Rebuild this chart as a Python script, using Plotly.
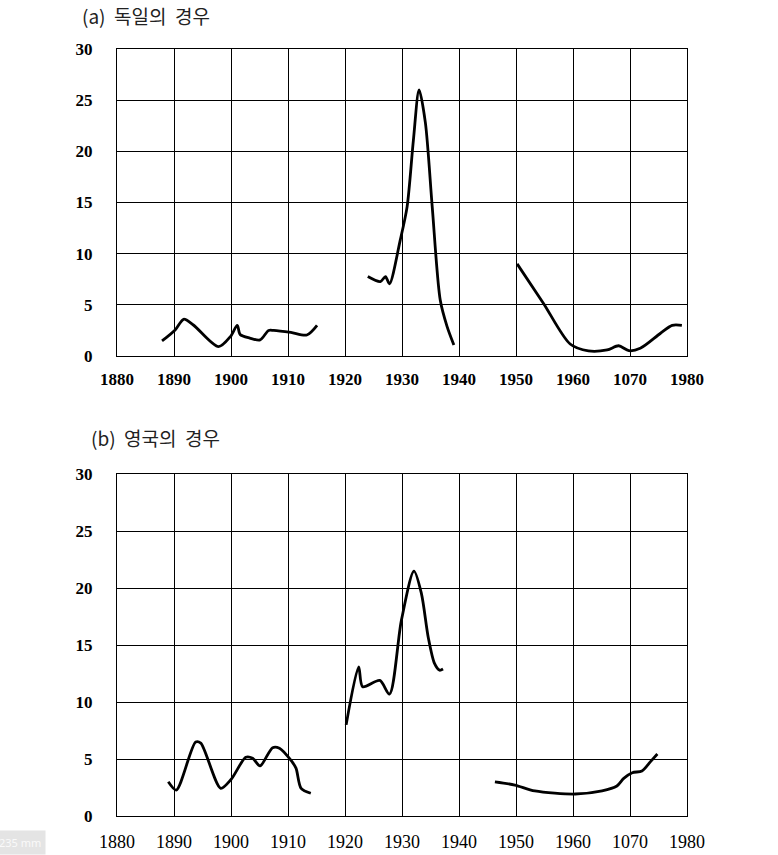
import plotly.graph_objects as go

# ---- data (a) Germany ----
de1_x = [1887.9, 1890.2, 1891.7, 1893.4, 1897.8, 1899.9, 1901.1, 1901.6, 1903.3, 1905.1, 1906.6, 1907.5, 1910.5, 1913.3, 1915.1]
de1_y = [1.47, 2.54, 3.59, 3.03, 0.91, 1.9, 3.0, 2.1, 1.75, 1.57, 2.5, 2.5, 2.3, 2.05, 3.0]
de2_x = [1924.0, 1926.2, 1927.1, 1927.8, 1929.7, 1930.9, 1932.0, 1933.0, 1934.1, 1935.3, 1936.7, 1937.9, 1939.1]
de2_y = [7.76, 7.27, 7.76, 7.05, 11.35, 14.6, 21.1, 26.0, 22.8, 14.6, 5.5, 2.9, 1.08]
de3_x = [1950.2, 1954.8, 1959.5, 1962.7, 1966.0, 1968.0, 1969.8, 1971.8, 1975.3, 1977.4, 1979.1]
de3_y = [9.0, 5.16, 1.17, 0.49, 0.59, 1.0, 0.52, 0.75, 2.2, 3.0, 3.0]

# ---- data (b) UK ----
uk1_x = [1889.0, 1890.4, 1893.8, 1894.7, 1898.2, 1900.0, 1902.6, 1903.8, 1905.1, 1907.3, 1908.5, 1910.5, 1911.4, 1912.3, 1914.0]
uk1_y = [3.0, 2.28, 6.5, 6.4, 2.43, 3.2, 5.15, 5.06, 4.4, 6.0, 5.95, 4.9, 4.2, 2.43, 2.0]
uk2_x = [1920.2, 1922.4, 1923.1, 1926.1, 1927.8, 1929.9, 1932.1, 1933.4, 1934.6, 1935.7, 1936.6, 1937.2]
uk2_y = [8.0, 13.1, 11.35, 11.9, 10.7, 17.2, 21.5, 19.55, 15.7, 13.4, 12.8, 12.9]
uk3_x = [1946.3, 1949.8, 1953.3, 1960.4, 1965.1, 1967.7, 1968.9, 1970.4, 1972.1, 1973.6, 1974.8]
uk3_y = [3.0, 2.72, 2.2, 1.93, 2.2, 2.63, 3.3, 3.8, 3.95, 4.77, 5.44]

x_tickvals = [1880, 1890, 1900, 1910, 1920, 1930, 1940, 1950, 1960, 1970, 1980]
x_ticktext = ["1880", "1890", "1900", "1910", "1920", "1930", "1940", "1950", "1960", "1070", "1980"]
y_tickvals = [0, 5, 10, 15, 20, 25, 30]
titles = ["(a)  독일의  경우", "(b)  영국의  경우"]

fig = go.Figure()
line = dict(color="black", width=2.8, shape="spline", smoothing=0.8)
for xs, ys in [(de1_x, de1_y), (de2_x, de2_y), (de3_x, de3_y)]:
    fig.add_trace(go.Scatter(x=xs, y=ys, mode="lines", line=line, xaxis="x", yaxis="y", showlegend=False))
for xs, ys in [(uk1_x, uk1_y), (uk2_x, uk2_y), (uk3_x, uk3_y)]:
    fig.add_trace(go.Scatter(x=xs, y=ys, mode="lines", line=line, xaxis="x2", yaxis="y2", showlegend=False))

W, H = 778, 855
L, R, T, B = 117, 91, 49, 39
PH = H - T - B
top_dom = [(816 - 356) / PH, 1.0]
bot_dom = [0.0, (816 - 474.3) / PH]

serif = "Liberation Serif, Times New Roman, serif"
font_bold = dict(family=serif, size=17, color="black", weight="bold")
font_reg = dict(family=serif, size=18, color="black")
xax = dict(range=[1880, 1980], tickvals=x_tickvals, ticktext=x_ticktext, showgrid=True,
           gridcolor="black", gridwidth=1, showline=True, linecolor="black", linewidth=1,
           mirror=True, zeroline=False, ticks="", automargin=False)
yax = dict(range=[0, 30], tickvals=y_tickvals, showgrid=True, gridcolor="black", gridwidth=1,
           showline=True, linecolor="black", linewidth=1, mirror=True, zeroline=False,
           ticks="", tickfont=font_bold, ticklabelstandoff=20, automargin=False)

fig.update_layout(
    width=W, height=H, margin=dict(l=L, r=R, t=T, b=B, autoexpand=False),
    paper_bgcolor="white", plot_bgcolor="white",
    xaxis=dict(**xax, anchor="y", tickfont=font_bold, ticklabelstandoff=8),
    yaxis=dict(**yax, domain=top_dom, anchor="x"),
    xaxis2=dict(**xax, anchor="y2", tickfont=font_reg, ticklabelstandoff=9),
    yaxis2=dict(**yax, domain=bot_dom, anchor="x2"),
    annotations=[
        dict(text=titles[0], x=(80 - L) / (W - L - R), y=(H - 15 - B) / PH, xref="paper", yref="paper",
             xanchor="left", yanchor="middle", showarrow=False,
             font=dict(family="Noto Sans CJK KR", size=19, color="#222222")),
        dict(text=titles[1], x=(89 - L) / (W - L - R), y=(H - 437 - B) / PH, xref="paper", yref="paper",
             xanchor="left", yanchor="middle", showarrow=False,
             font=dict(family="Noto Sans CJK KR", size=19, color="#222222")),
        dict(text="235 mm", x=(-6 - L) / (W - L - R), y=-B / PH, xref="paper", yref="paper",
             xanchor="left", yanchor="bottom", showarrow=False, bgcolor="#e4e4e4",
             borderpad=4, font=dict(family="Noto Sans", size=11, color="#fafafa")),
    ],
)

fig.write_html("out.html")
